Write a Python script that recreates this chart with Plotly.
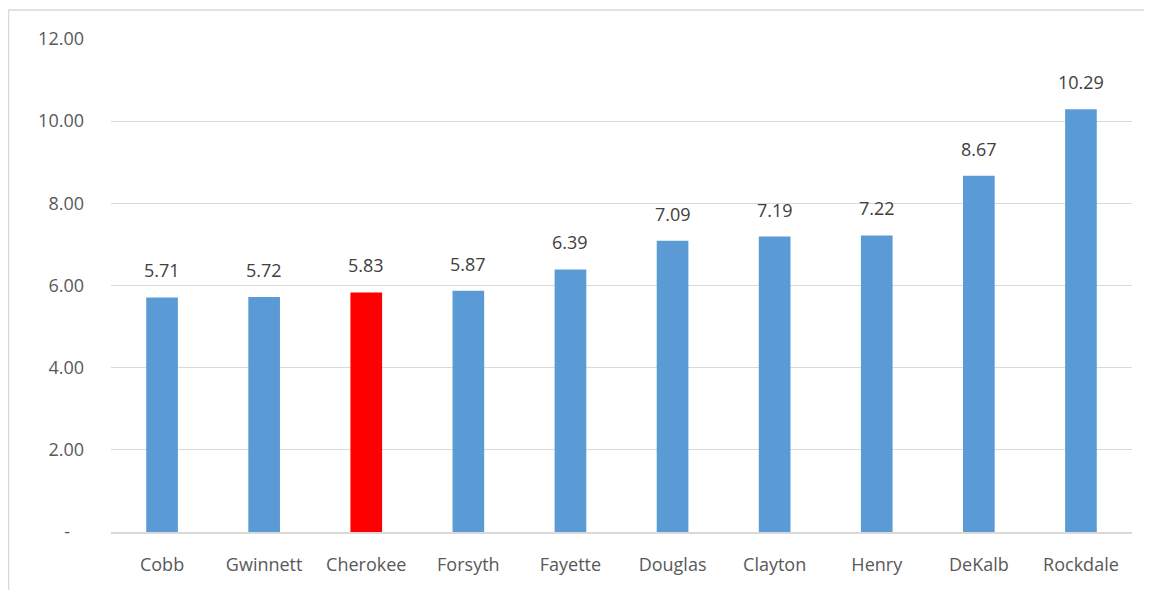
import plotly.graph_objects as go

counties = ['Cobb', 'Gwinnett', 'Cherokee', 'Forsyth', 'Fayette', 'Douglas', 'Clayton', 'Henry', 'DeKalb', 'Rockdale']
values = [5.71, 5.72, 5.83, 5.87, 6.39, 7.09, 7.19, 7.22, 8.67, 10.29]
highlight = 'Cherokee'
y_ticks = [0, 2, 4, 6, 8, 10, 12]
y_labels = ['-\u00a0\u00a0\u00a0', '2.00', '4.00', '6.00', '8.00', '10.00', '12.00']

colors = ['#FF0000' if c == highlight else '#5B9BD5' for c in counties]
font_name = 'Open Sans, sans-serif'

fig = go.Figure()
fig.add_trace(go.Bar(x=counties, y=values, marker=dict(color=colors, line=dict(width=0))))

# value labels above each bar
for c, v in zip(counties, values):
    fig.add_annotation(x=c, y=v, text=f'{v:.2f}', showarrow=False, yanchor='bottom', yshift=13,
                       font=dict(family=font_name, size=18, color='#404040'))

# the page body adds an 8px offset, so the figure is a bit smaller to avoid scrollbars
fig.update_layout(
    width=1144, height=582,
    margin=dict(l=103, r=20, t=31, b=58, autoexpand=False),
    paper_bgcolor='white', plot_bgcolor='white',
    font=dict(family=font_name, size=18, color='#595959'),
    bargap=0.69, showlegend=False,
    xaxis=dict(showgrid=False, showline=True, linecolor='#D9D9D9', linewidth=1.5, automargin=False,
               ticks='', ticklabelstandoff=16, tickfont=dict(size=18, color='#595959')),
    yaxis=dict(range=[0, 12], tickvals=y_ticks, ticktext=y_labels, showgrid=True, automargin=False,
               gridcolor='#D9D9D9', gridwidth=1, zeroline=False, ticks='',
               ticklabelstandoff=26, tickfont=dict(size=18, color='#595959')),
)

# outer chart border: only the top and left edges fall inside the frame
border = dict(color='#D9D9D9', width=1.5)
fig.add_shape(type='line', xref='paper', yref='paper', x0=-0.1004, y0=1.0588, x1=1.02, y1=1.0588,
              line=border, layer='below')
fig.add_shape(type='line', xref='paper', yref='paper', x0=-0.1004, y0=1.0588, x1=-0.1004, y1=-0.12,
              line=border, layer='below')

fig.write_html('out.html')
